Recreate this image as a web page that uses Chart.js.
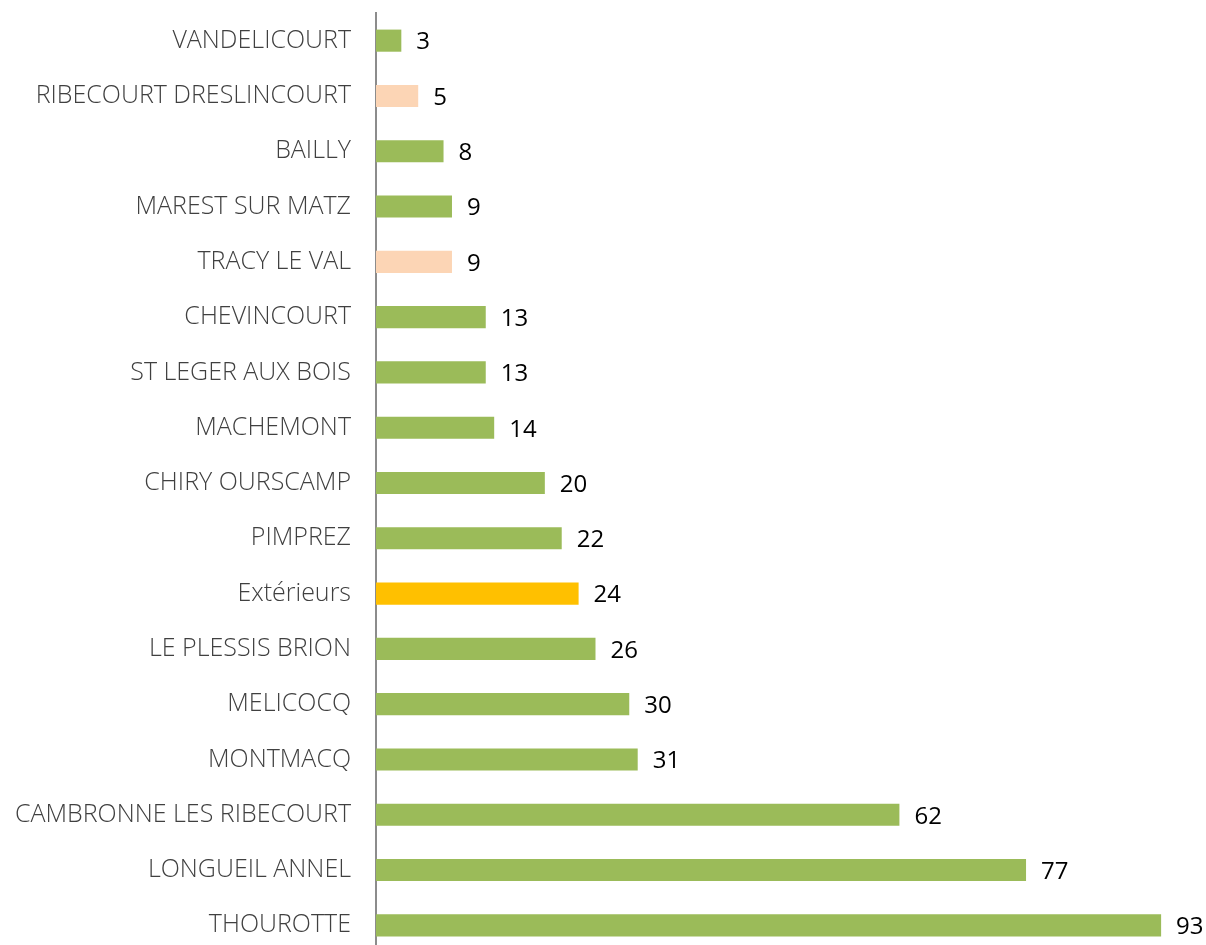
<!DOCTYPE html>
<html lang="fr">
<head>
    <meta charset="UTF-8">
    <title>Communes</title>
    <style>
        html, body {
            margin: 0;
            padding: 0;
            background-color: #ffffff;
            overflow: hidden;
        }
        .chart-container {
            width: 1206px;
            height: 953px;
        }
    </style>
    <script src="https://cdn.jsdelivr.net/npm/chart.js"></script>
</head>
<body>
    <div class="chart-container">
        <canvas id="communesChart"></canvas>
    </div>

    <script>
        const communes = [
            'VANDELICOURT', 'RIBECOURT DRESLINCOURT', 'BAILLY', 'MAREST SUR MATZ',
            'TRACY LE VAL', 'CHEVINCOURT', 'ST LEGER AUX BOIS', 'MACHEMONT',
            'CHIRY OURSCAMP', 'PIMPREZ', 'Extérieurs', 'LE PLESSIS BRION',
            'MELICOCQ', 'MONTMACQ', 'CAMBRONNE LES RIBECOURT', 'LONGUEIL ANNEL', 'THOUROTTE'
        ];
        const effectifs = [3, 5, 8, 9, 9, 13, 13, 14, 20, 22, 24, 26, 30, 31, 62, 77, 93];
        const groupes = ['commune', 'autre', 'commune', 'commune', 'autre', 'commune', 'commune', 'commune',
            'commune', 'commune', 'exterieur', 'commune', 'commune', 'commune', 'commune', 'commune', 'commune'];

        const couleurs = { commune: '#9BBB59', autre: '#FCD5B5', exterieur: '#FFC000' };

        // étiquettes de valeur au bout des barres
        const valueLabels = {
            id: 'valueLabels',
            afterDatasetsDraw(chart) {
                const ctx = chart.ctx;
                const meta = chart.getDatasetMeta(0);
                ctx.save();
                ctx.font = '24px "Open Sans", sans-serif';
                ctx.fillStyle = '#000000';
                ctx.textAlign = 'left';
                ctx.textBaseline = 'middle';
                meta.data.forEach((bar, i) => {
                    ctx.fillText(String(effectifs[i]), bar.x + 15, bar.y + 2);
                });
                ctx.restore();
            }
        };

        new Chart(document.getElementById('communesChart').getContext('2d'), {
            type: 'bar',
            data: {
                labels: communes,
                datasets: [{
                    data: effectifs,
                    backgroundColor: groupes.map(g => couleurs[g]),
                    barPercentage: 0.8,
                    categoryPercentage: 0.5
                }]
            },
            options: {
                indexAxis: 'y',
                responsive: true,
                maintainAspectRatio: false,
                animation: false,
                layout: {
                    padding: { left: 0, right: 28, top: 13, bottom: 0 }
                },
                plugins: {
                    legend: { display: false },
                    tooltip: { enabled: false }
                },
                scales: {
                    x: {
                        min: 0,
                        max: 95,
                        display: false
                    },
                    y: {
                        afterFit(scale) {
                            scale.width = 376;
                            scale.paddingTop = 0;
                            scale.paddingBottom = 0;
                        },
                        grid: { display: false, drawTicks: false },
                        border: { display: true, color: '#8C8C8C', width: 2 },
                        ticks: {
                            padding: 25,
                            color: '#404040',
                            font: { family: '"Open Sans", sans-serif', size: 25, weight: '300' }
                        }
                    }
                }
            },
            plugins: [valueLabels]
        });
    </script>
</body>
</html>
